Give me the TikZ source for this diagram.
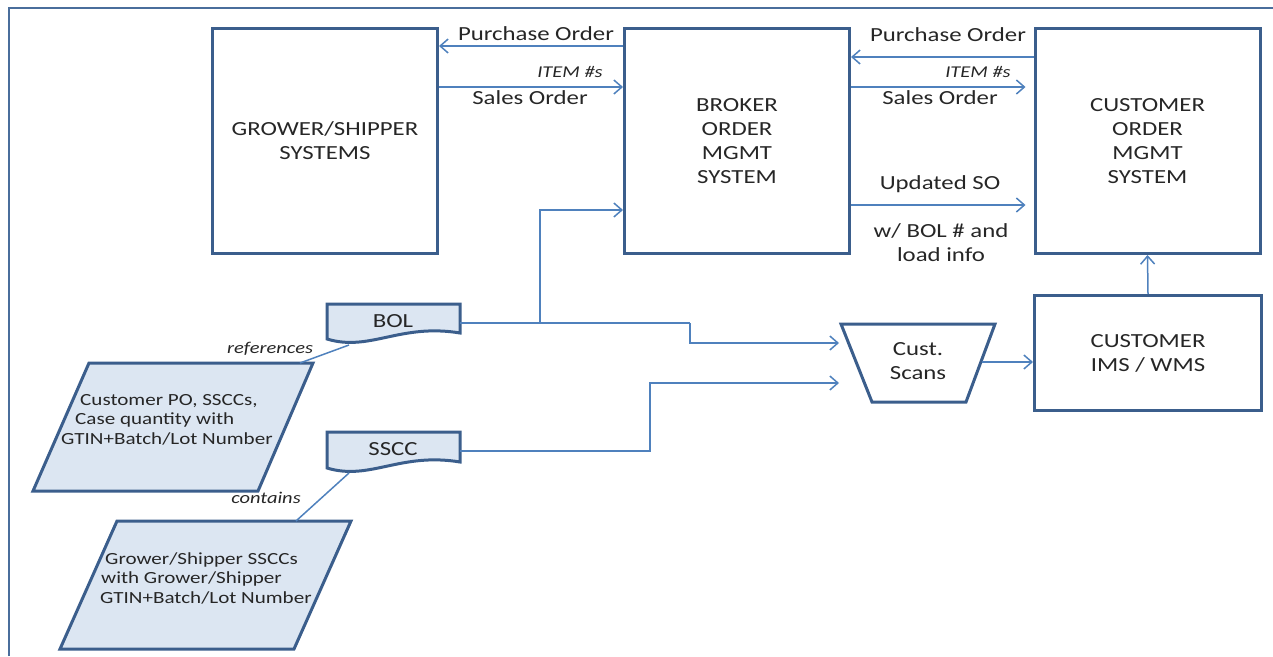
\documentclass[tikz,border=0pt]{standalone}
\usepackage{fontspec}
\setmainfont{Carlito}[FakeStretch=1.24]
\usetikzlibrary{arrows.meta}
\definecolor{boxc}{HTML}{3B5E8C}
\definecolor{arrc}{HTML}{4F81BD}
\definecolor{fillc}{HTML}{DCE6F2}
\definecolor{txt}{HTML}{262626}
\definecolor{framec}{HTML}{4A6E9C}
\begin{document}
\begin{tikzpicture}[x=1pt,y=-1pt,
  box/.style={draw=boxc, line width=3pt, minimum width=225pt, minimum height=225pt, inner sep=0pt, align=center, text=txt, font=\fontsize{20}{24}\selectfont},
  arr/.style={draw=arrc, line width=1.5pt, -{Straight Barb[length=8pt,width=14pt]}},
  lnk/.style={draw=arrc, line width=1.5pt},
  lbl/.style={text=txt, font=\fontsize{20}{24}\selectfont, inner sep=0pt},
  ilbl/.style={text=txt, font=\fontsize{16.5}{20}\selectfont\itshape, inner sep=0pt},
  ptext/.style={text=txt, font=\fontsize{17}{19.5}\selectfont, inner sep=0pt, align=left},
  shp/.style={draw=boxc, line width=3pt, fill=fillc}
]
\useasboundingbox (0,0) rectangle (1273,656);
% frame
\draw[framec, line width=2pt] (9,656) -- (9,8) -- (1273,8);

% main boxes
\node[box] (grower) at (325,141) {GROWER/SHIPPER\\SYSTEMS};
\node[box] (broker) at (737,141) {BROKER\\ORDER\\MGMT\\SYSTEM};
\node[box] (cust) at (1147.5,141) {CUSTOMER\\ORDER\\MGMT\\SYSTEM};
\node[box, minimum height=115pt, minimum width=227pt] (ims) at (1148,353) {CUSTOMER\\IMS / WMS};

% grower <-> broker
\draw[arr] (broker.west |- 0,46) -- (grower.east |- 0,46);
\node[lbl] (po1) at (536,34) {Purchase Order};
\draw[arr] (grower.east |- 0,87) -- (broker.west |- 0,87);
\node[ilbl] (it1) at (570,72) {ITEM \#s};
\node[lbl] (so1) at (530,98) {Sales Order};

% broker <-> customer
\draw[arr] (cust.west |- 0,57) -- (broker.east |- 0,57);
\node[lbl] (po2) at (948,35) {Purchase Order};
\draw[arr, shorten >=8pt] (broker.east |- 0,87) -- (cust.west |- 0,87);
\node[ilbl] (it2) at (978,72) {ITEM \#s};
\node[lbl] (so2) at (940,98) {Sales Order};
\draw[arr, shorten >=8pt] (broker.east |- 0,205) -- (cust.west |- 0,205);
\node[lbl] (uso) at (940,184) {Updated SO};
\node[lbl, align=center] (wbol) at (941,243) {w/ BOL \# and\\load info};

% IMS -> customer
\draw[arr] (ims.north) -- (cust.south);

% documents
\draw[shp] (327,304) -- (460,304) -- (460,333) .. controls (400,323) and (370,352) .. (327,339) -- cycle;
\node[lbl] (bol) at (393,321) {BOL};
\draw[shp] (327,432) -- (460,432) -- (460,462) .. controls (400,452) and (370,481) .. (327,468) -- cycle;
\node[lbl] (sscc) at (393,449) {SSCC};
\coordinate (bolE) at (460,323);
\coordinate (bolB) at (349,345);
\coordinate (ssccE) at (460,451);
\coordinate (ssccB) at (349,473);

% Cust. Scans
\draw[boxc, line width=3pt] (841,324) -- (995,324) -- (966,402) -- (872,402) -- cycle;
\node[lbl, align=center] (scans) at (918,361) {Cust.\\Scans};
\coordinate (scanA) at (839,343);
\coordinate (scanB) at (839,383);
\coordinate (scanR) at (982,362);
\coordinate (j1) at (540,323);
\coordinate (j2) at (690,323);
\coordinate (j3) at (650,451);

\draw[lnk] (bolE) -- (j2);
\draw[arr] (j1) |- (broker.west |- 0,210);
\draw[arr] (j2) |- (scanA);
\draw[arr] (ssccE) -- (j3) |- (scanB);
\draw[arr] (scanR) -- (ims.west |- scanR);

% parallelograms
\draw[shp] (89,363) -- (313,363) -- (258,491) -- (33,491) -- cycle;
\node[ptext, anchor=west] (p1) at (61,419.5) {\hspace*{19pt}Customer PO, SSCCs,\\\hspace*{14pt}Case quantity with\\GTIN+Batch/Lot Number};
\coordinate (p1T) at (300,363);
\draw[shp] (117,521) -- (351,521) -- (294,649) -- (60,649) -- cycle;
\node[ptext, anchor=west] (p2) at (100,578) {\hspace*{5pt}Grower/Shipper SSCCs\\\hspace*{1pt}with Grower/Shipper\\GTIN+Batch/Lot Number};
\coordinate (p2T) at (296,521);

\draw[lnk] (bolB) -- (p1T);
\node[ilbl] (refs) at (270,349) {references};
\draw[lnk] (ssccB) -- (p2T);
\node[ilbl] (cont) at (266,498) {contains};
\end{tikzpicture}
\end{document}
